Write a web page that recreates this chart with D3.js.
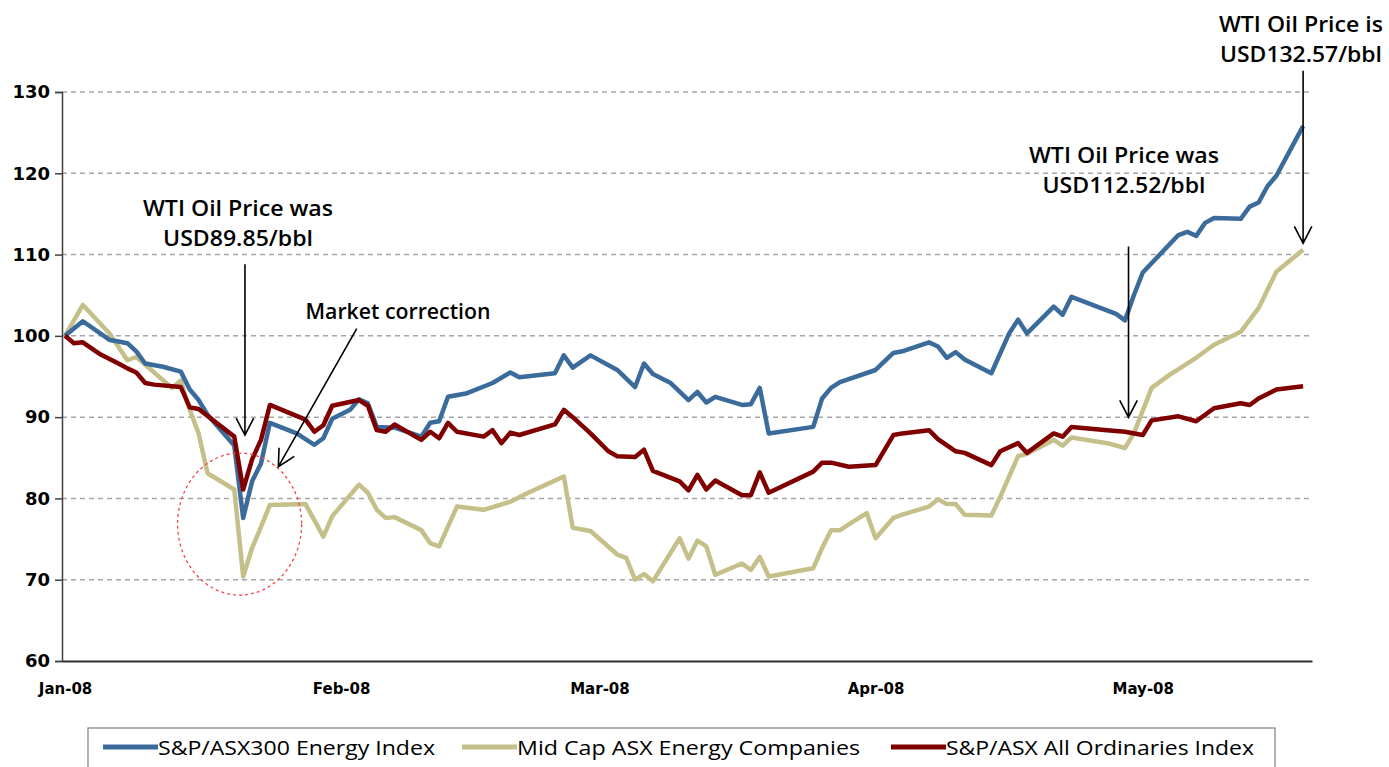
<!DOCTYPE html>
<html>
<head>
<meta charset="utf-8">
<script src="https://cdn.jsdelivr.net/npm/d3@7"></script>
<style>
	body { margin: 0; background: #fff; }
	svg { display: block; }
	.axis text { fill: #000; font-family: "DejaVu Sans", sans-serif; font-weight: bold; }
	.note { font-family: "Open Sans", sans-serif; font-size: 22px; font-weight: 600; fill: #000; }
	.legend text { font-family: "Open Sans", sans-serif; font-size: 20px; fill: #000; }
</style>
</head>
<body>
<script>

// S&P/ASX300 Energy Index (rebased to 100)
var energyIndex = [
	["2008-01-01",100],["2008-01-03",101.8],["2008-01-06",99.5],["2008-01-07",99.3],["2008-01-08",99.1],
	["2008-01-09",98.1],["2008-01-10",96.6],["2008-01-12",96.2],["2008-01-14",95.6],["2008-01-15",93.4],
	["2008-01-16",92.1],["2008-01-17",90.3],["2008-01-20",86.5],["2008-01-21",77.6],["2008-01-22",82.1],
	["2008-01-23",84.3],["2008-01-24",89.3],["2008-01-27",88.0],["2008-01-29",86.6],["2008-01-30",87.4],
	["2008-01-31",89.8],["2008-02-02",90.9],["2008-02-03",92.2],["2008-02-04",91.7],["2008-02-05",88.8],
	["2008-02-07",88.7],["2008-02-10",87.6],["2008-02-11",89.3],["2008-02-12",89.5],["2008-02-13",92.5],
	["2008-02-15",92.9],["2008-02-18",94.2],["2008-02-20",95.5],["2008-02-21",94.9],["2008-02-25",95.4],
	["2008-02-26",97.6],["2008-02-27",96.1],["2008-02-29",97.6],["2008-03-03",95.8],["2008-03-05",93.7],
	["2008-03-06",96.6],["2008-03-07",95.3],["2008-03-09",94.2],["2008-03-11",92.1],["2008-03-12",93.1],
	["2008-03-13",91.8],["2008-03-14",92.5],["2008-03-17",91.5],["2008-03-18",91.6],["2008-03-19",93.6],
	["2008-03-20",88.0],["2008-03-25",88.8],["2008-03-26",92.3],["2008-03-27",93.6],["2008-03-28",94.3],
	["2008-04-01",95.8],["2008-04-03",97.9],["2008-04-04",98.1],["2008-04-07",99.2],["2008-04-08",98.7],
	["2008-04-09",97.3],["2008-04-10",98.0],["2008-04-11",97.1],["2008-04-14",95.4],["2008-04-16",100.3],
	["2008-04-17",102.0],["2008-04-18",100.3],["2008-04-21",103.6],["2008-04-22",102.6],["2008-04-23",104.8],
	["2008-04-28",102.7],["2008-04-29",101.9],["2008-04-30",105.0],["2008-05-01",107.8],["2008-05-05",112.4],
	["2008-05-06",112.8],["2008-05-07",112.3],["2008-05-08",113.9],["2008-05-09",114.5],["2008-05-12",114.4],
	["2008-05-13",115.9],["2008-05-14",116.4],["2008-05-15",118.4],["2008-05-16",119.7],["2008-05-19",125.8]
];

// Mid Cap ASX Energy Companies
var midCap = [
	["2008-01-01",100],["2008-01-03",103.8],["2008-01-06",100.3],["2008-01-08",97.0],["2008-01-09",97.4],
	["2008-01-13",93.6],["2008-01-14",94.5],["2008-01-15",90.9],["2008-01-16",88.0],["2008-01-17",83.1],
	["2008-01-20",81.1],["2008-01-21",70.4],["2008-01-22",73.9],["2008-01-23",76.5],["2008-01-24",79.2],
	["2008-01-28",79.3],["2008-01-30",75.3],["2008-01-31",77.8],["2008-02-03",81.7],["2008-02-04",80.7],
	["2008-02-05",78.6],["2008-02-06",77.6],["2008-02-07",77.7],["2008-02-10",76.1],["2008-02-11",74.5],
	["2008-02-12",74.1],["2008-02-14",79.0],["2008-02-17",78.6],["2008-02-20",79.6],["2008-02-22",80.7],
	["2008-02-24",81.7],["2008-02-26",82.7],["2008-02-27",76.4],["2008-02-29",76.0],["2008-03-03",73.1],
	["2008-03-04",72.7],["2008-03-05",70.0],["2008-03-06",70.7],["2008-03-07",69.8],["2008-03-10",75.1],
	["2008-03-11",72.6],["2008-03-12",74.8],["2008-03-13",74.1],["2008-03-14",70.6],["2008-03-17",72.0],
	["2008-03-18",71.2],["2008-03-19",72.8],["2008-03-20",70.4],["2008-03-25",71.4],["2008-03-26",73.9],
	["2008-03-27",76.1],["2008-03-28",76.1],["2008-03-29",76.8],["2008-03-31",78.2],["2008-04-01",75.1],
	["2008-04-03",77.6],["2008-04-04",78.0],["2008-04-07",79.0],["2008-04-08",79.9],["2008-04-09",79.3],
	["2008-04-10",79.3],["2008-04-11",78.0],["2008-04-14",77.9],["2008-04-15",80.2],["2008-04-16",82.7],
	["2008-04-17",85.2],["2008-04-18",85.5],["2008-04-21",87.2],["2008-04-22",86.5],["2008-04-23",87.5],
	["2008-04-27",86.8],["2008-04-29",86.2],["2008-04-30",88.0],["2008-05-02",93.6],["2008-05-04",95.2],
	["2008-05-07",97.3],["2008-05-09",98.9],["2008-05-12",100.5],["2008-05-14",103.4],["2008-05-16",107.9],
	["2008-05-19",110.6]
];

// S&P/ASX All Ordinaries Index
var allOrds = [
	["2008-01-01",100],["2008-01-02",99.1],["2008-01-03",99.2],["2008-01-05",97.7],["2008-01-07",96.6],
	["2008-01-08",96.0],["2008-01-09",95.5],["2008-01-10",94.2],["2008-01-11",94.0],["2008-01-14",93.7],
	["2008-01-15",91.2],["2008-01-16",91.0],["2008-01-20",87.6],["2008-01-21",81.1],["2008-01-22",84.8],
	["2008-01-23",87.2],["2008-01-24",91.5],["2008-01-28",89.7],["2008-01-29",88.2],["2008-01-30",89.0],
	["2008-01-31",91.4],["2008-02-03",92.1],["2008-02-04",91.4],["2008-02-05",88.4],["2008-02-06",88.2],
	["2008-02-07",89.1],["2008-02-10",87.2],["2008-02-11",88.2],["2008-02-12",87.4],["2008-02-13",89.3],
	["2008-02-14",88.2],["2008-02-17",87.6],["2008-02-18",88.4],["2008-02-19",86.8],["2008-02-20",88.1],
	["2008-02-21",87.8],["2008-02-25",89.1],["2008-02-26",90.9],["2008-02-27",90.0],["2008-02-29",88.0],
	["2008-03-02",85.8],["2008-03-03",85.2],["2008-03-05",85.1],["2008-03-06",86.0],["2008-03-07",83.4],
	["2008-03-10",82.1],["2008-03-11",81.0],["2008-03-12",82.9],["2008-03-13",81.1],["2008-03-14",82.2],
	["2008-03-17",80.4],["2008-03-18",80.4],["2008-03-19",83.2],["2008-03-20",80.7],["2008-03-25",83.3],
	["2008-03-26",84.4],["2008-03-27",84.4],["2008-03-29",83.9],["2008-04-01",84.1],["2008-04-03",87.8],
	["2008-04-04",88.0],["2008-04-07",88.4],["2008-04-08",87.3],["2008-04-10",85.8],["2008-04-11",85.6],
	["2008-04-14",84.1],["2008-04-15",85.8],["2008-04-17",86.8],["2008-04-18",85.6],["2008-04-21",88.0],
	["2008-04-22",87.6],["2008-04-23",88.8],["2008-04-27",88.4],["2008-04-29",88.2],["2008-05-01",87.8],
	["2008-05-02",89.6],["2008-05-05",90.1],["2008-05-07",89.5],["2008-05-09",91.1],["2008-05-12",91.7],
	["2008-05-13",91.5],["2008-05-14",92.3],["2008-05-16",93.4],["2008-05-19",93.8]
];

var seriesNames = ["S&P/ASX300 Energy Index", "Mid Cap ASX Energy Companies", "S&P/ASX All Ordinaries Index"];
var seriesColors = ["#3a6b9b", "#c5c08a", "#800000"];
var yTicks = [60, 70, 80, 90, 100, 110, 120, 130];
var monthTicks = ["2008-01-01", "2008-02-01", "2008-03-01", "2008-04-01", "2008-05-01"];

// annotations: arrows as [day offset from 1 Jan, index value]
var noteLines = [
	["WTI Oil Price was", "USD89.85/bbl"],
	["Market correction"],
	["WTI Oil Price was", "USD112.52/bbl"],
	["WTI Oil Price is", "USD132.57/bbl"]
];
var noteArrows = [
	[[20.2, 108.8], [20.2, 87.8]],
	[[32.75, 100.9], [23.95, 83.9]],
	[[119.4, 111.0], [119.4, 90.0]],
	[[139.0, 132.6], [139.0, 111.4]]
];


var width = 1389,
	height = 767;
var margin = {top: 92, right: 77, bottom: 106, left: 62};

var parseDate = d3.timeParse("%Y-%m-%d");
var jan1 = parseDate("2008-01-01");
function dayOffset(d){
	return new Date(jan1.getTime() + d * 864e5);
}

var svg = d3.select("body").append("svg")
	.attr("width", width)
	.attr("height", height);

var x = d3.scaleTime()
	.domain([dayOffset(-0.34), dayOffset(140)])
	.range([margin.left, width - margin.right]);

var y = d3.scaleLinear()
	.domain([60, 130])
	.range([height - margin.bottom, margin.top]);

// gridlines
svg.append("g")
	.selectAll("line")
	.data(yTicks.filter(d => d > 60))
	.enter()
	.append("line")
	.attr("x1", margin.left)
	.attr("x2", width - margin.right)
	.attr("y1", d => y(d))
	.attr("y2", d => y(d))
	.attr("stroke", "#a6a6a6")
	.attr("stroke-width", 1.5)
	.attr("stroke-dasharray", "5,4");

// y axis
var yAxis = d3.axisLeft(y)
	.tickValues(yTicks)
	.tickSize(7)
	.tickPadding(5)
	.tickFormat(d3.format("d"));

var yg = svg.append("g")
	.attr("class", "axis")
	.attr("transform", "translate(" + margin.left + ",0)")
	.call(yAxis);
yg.selectAll("text").style("font-size", "18px");
yg.selectAll("line, path").attr("stroke", "#404040").attr("stroke-width", 1.5);

// x axis
var xAxis = d3.axisBottom(x)
	.tickValues(monthTicks.map(parseDate))
	.tickSize(0)
	.tickPadding(22)
	.tickFormat(d3.timeFormat("%b-%y"));

var xg = svg.append("g")
	.attr("class", "axis")
	.attr("transform", "translate(0," + (height - margin.bottom) + ")")
	.call(xAxis);
xg.selectAll("text").style("font-size", "15px");
xg.select("path").attr("stroke", "#303030").attr("stroke-width", 2);

// lines
var line = d3.line()
	.x(d => x(parseDate(d[0])))
	.y(d => y(d[1]));

var allSeries = [energyIndex, midCap, allOrds];

// draw gold first, then blue, red on top
[1, 0, 2].forEach(function(i){
	svg.append("path")
		.datum(allSeries[i])
		.attr("fill", "none")
		.attr("stroke", seriesColors[i])
		.attr("stroke-width", 4.5)
		.attr("stroke-linejoin", "round")
		.attr("d", line);
});

// red dashed circle around the January sell-off
svg.append("ellipse")
	.attr("cx", x(dayOffset(19.6)))
	.attr("cy", y(76.85))
	.attr("rx", 62)
	.attr("ry", 71)
	.attr("fill", "none")
	.attr("stroke", "#f04848")
	.attr("stroke-width", 1.3)
	.attr("stroke-dasharray", "3,3");

// annotation arrows
function arrowPath(a){
	var x1 = x(dayOffset(a[0][0])), y1 = y(a[0][1]);
	var x2 = x(dayOffset(a[1][0])), y2 = y(a[1][1]);
	var ang = Math.atan2(y2 - y1, x2 - x1);
	var len = 19, spread = 0.48;
	var w1 = [x2 - len * Math.cos(ang - spread), y2 - len * Math.sin(ang - spread)];
	var w2 = [x2 - len * Math.cos(ang + spread), y2 - len * Math.sin(ang + spread)];
	return "M" + x1 + "," + y1 + "L" + x2 + "," + y2 +
		"M" + w1[0] + "," + w1[1] + "L" + x2 + "," + y2 + "L" + w2[0] + "," + w2[1];
}

svg.append("g")
	.selectAll("path")
	.data(noteArrows)
	.enter()
	.append("path")
	.attr("d", arrowPath)
	.attr("fill", "none")
	.attr("stroke", "#000")
	.attr("stroke-width", 1.6);

// annotation text (centre x, first baseline) and line widths
var notePos = [[238, 216], [398, 319], [1124, 163], [1301, 32]];
var noteW = [[190, 150], [185], [190, 163], [164, 162]];
noteLines.forEach(function(lines, i){
	var t = svg.append("text")
		.attr("class", "note")
		.attr("text-anchor", "middle")
		.attr("x", notePos[i][0])
		.attr("y", notePos[i][1]);
	lines.forEach(function(s, j){
		t.append("tspan")
			.attr("x", notePos[i][0])
			.attr("dy", j == 0 ? 0 : 30)
			.attr("textLength", noteW[i][j])
			.attr("lengthAdjust", "spacingAndGlyphs")
			.text(s);
	});
});

// legend
var legend = svg.append("g").attr("class", "legend");
legend.append("rect")
	.attr("x", 88)
	.attr("y", 728)
	.attr("width", 1187)
	.attr("height", 60)
	.attr("fill", "#fff")
	.attr("stroke", "#808080")
	.attr("stroke-width", 1.2);

var legendX = [103, 462, 891];
var legendTextW = [277, 343, 308];
seriesNames.forEach(function(name, i){
	legend.append("line")
		.attr("x1", legendX[i])
		.attr("x2", legendX[i] + 55)
		.attr("y1", 747)
		.attr("y2", 747)
		.attr("stroke", seriesColors[i])
		.attr("stroke-width", 5);
	legend.append("text")
		.attr("x", legendX[i] + 55)
		.attr("y", 755)
		.attr("textLength", legendTextW[i])
		.attr("lengthAdjust", "spacingAndGlyphs")
		.text(name);
});

</script>
</body>
</html>
